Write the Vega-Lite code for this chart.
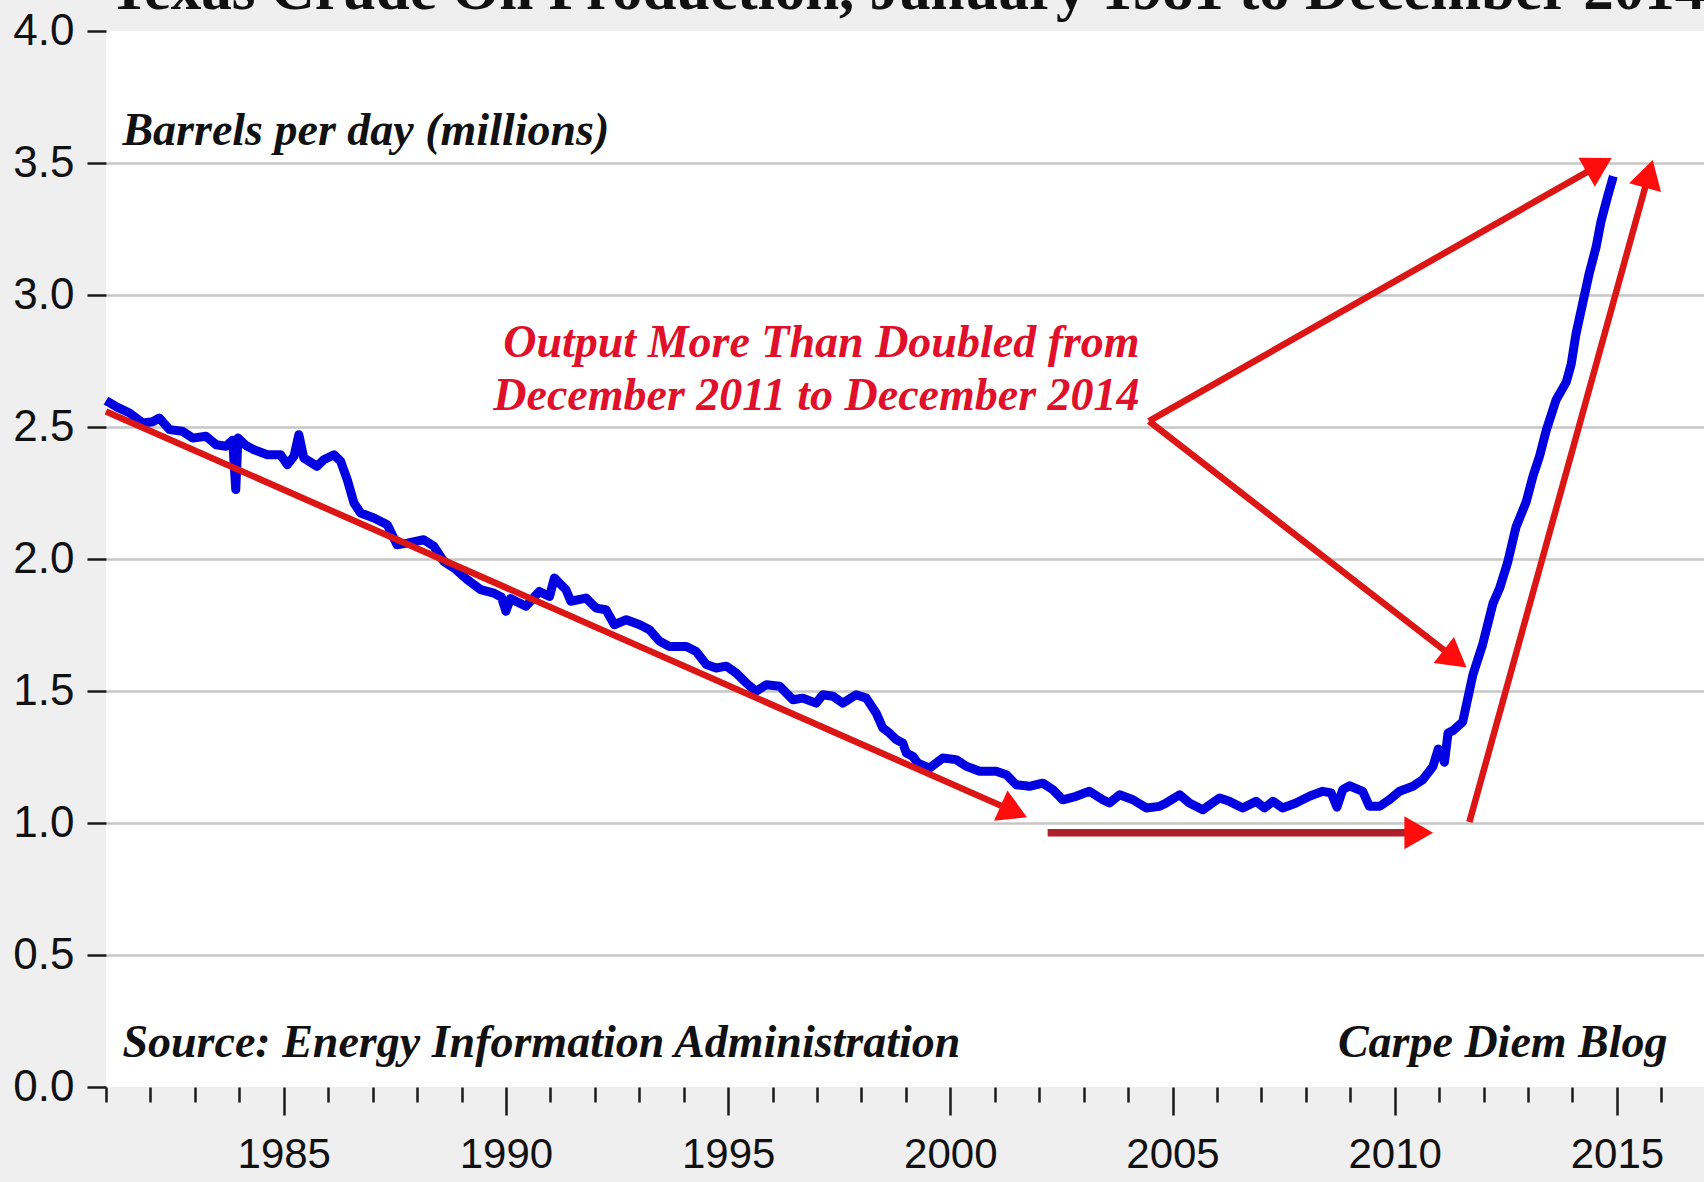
{
  "$schema": "https://vega.github.io/schema/vega-lite/v6.json",
  "width": 1598,
  "height": 1056,
  "autosize": {"type": "none"},
  "padding": {"left": 106, "top": 31, "right": 0, "bottom": 95},
  "background": "#efefef",
  "view": {"fill": "#ffffff", "stroke": null},
  "datasets": {
    "production": [
      {"year": 1981.00, "value": 2.600}, {"year": 1981.25, "value": 2.575}, {"year": 1981.53, "value": 2.553},
      {"year": 1981.83, "value": 2.515}, {"year": 1982.05, "value": 2.520}, {"year": 1982.20, "value": 2.534},
      {"year": 1982.43, "value": 2.490}, {"year": 1982.72, "value": 2.484}, {"year": 1982.95, "value": 2.458},
      {"year": 1983.25, "value": 2.465}, {"year": 1983.48, "value": 2.433}, {"year": 1983.70, "value": 2.427},
      {"year": 1983.85, "value": 2.450}, {"year": 1983.92, "value": 2.263}, {"year": 1983.97, "value": 2.458},
      {"year": 1984.15, "value": 2.430}, {"year": 1984.33, "value": 2.414}, {"year": 1984.63, "value": 2.395},
      {"year": 1984.93, "value": 2.395}, {"year": 1985.08, "value": 2.357}, {"year": 1985.23, "value": 2.389},
      {"year": 1985.34, "value": 2.471}, {"year": 1985.45, "value": 2.383}, {"year": 1985.75, "value": 2.351},
      {"year": 1985.90, "value": 2.376}, {"year": 1986.13, "value": 2.395}, {"year": 1986.28, "value": 2.370},
      {"year": 1986.43, "value": 2.300}, {"year": 1986.58, "value": 2.212}, {"year": 1986.73, "value": 2.174},
      {"year": 1987.03, "value": 2.155}, {"year": 1987.33, "value": 2.130}, {"year": 1987.55, "value": 2.054},
      {"year": 1987.78, "value": 2.060}, {"year": 1988.15, "value": 2.073}, {"year": 1988.38, "value": 2.048},
      {"year": 1988.60, "value": 1.991}, {"year": 1988.83, "value": 1.966}, {"year": 1989.13, "value": 1.922},
      {"year": 1989.43, "value": 1.884}, {"year": 1989.73, "value": 1.871}, {"year": 1989.90, "value": 1.855},
      {"year": 1990.00, "value": 1.802}, {"year": 1990.10, "value": 1.850}, {"year": 1990.45, "value": 1.821},
      {"year": 1990.75, "value": 1.877}, {"year": 1990.98, "value": 1.858}, {"year": 1991.09, "value": 1.928},
      {"year": 1991.35, "value": 1.884}, {"year": 1991.46, "value": 1.840}, {"year": 1991.80, "value": 1.852},
      {"year": 1992.03, "value": 1.814}, {"year": 1992.25, "value": 1.808}, {"year": 1992.44, "value": 1.751},
      {"year": 1992.71, "value": 1.770}, {"year": 1993.01, "value": 1.751}, {"year": 1993.23, "value": 1.732},
      {"year": 1993.46, "value": 1.688}, {"year": 1993.68, "value": 1.669}, {"year": 1994.06, "value": 1.669},
      {"year": 1994.28, "value": 1.650}, {"year": 1994.51, "value": 1.600}, {"year": 1994.73, "value": 1.587},
      {"year": 1994.96, "value": 1.594}, {"year": 1995.18, "value": 1.568}, {"year": 1995.41, "value": 1.530},
      {"year": 1995.63, "value": 1.499}, {"year": 1995.86, "value": 1.524}, {"year": 1996.16, "value": 1.518},
      {"year": 1996.46, "value": 1.467}, {"year": 1996.68, "value": 1.473}, {"year": 1996.98, "value": 1.454},
      {"year": 1997.13, "value": 1.486}, {"year": 1997.36, "value": 1.480}, {"year": 1997.58, "value": 1.454},
      {"year": 1997.88, "value": 1.486}, {"year": 1998.11, "value": 1.473}, {"year": 1998.33, "value": 1.417},
      {"year": 1998.48, "value": 1.360}, {"year": 1998.63, "value": 1.341}, {"year": 1998.78, "value": 1.316},
      {"year": 1998.93, "value": 1.303}, {"year": 1999.01, "value": 1.265}, {"year": 1999.16, "value": 1.252},
      {"year": 1999.27, "value": 1.227}, {"year": 1999.53, "value": 1.208}, {"year": 1999.83, "value": 1.246},
      {"year": 2000.13, "value": 1.240}, {"year": 2000.36, "value": 1.215}, {"year": 2000.66, "value": 1.196},
      {"year": 2001.03, "value": 1.196}, {"year": 2001.26, "value": 1.183}, {"year": 2001.48, "value": 1.145},
      {"year": 2001.78, "value": 1.139}, {"year": 2002.08, "value": 1.151}, {"year": 2002.31, "value": 1.126},
      {"year": 2002.53, "value": 1.088}, {"year": 2002.83, "value": 1.101}, {"year": 2003.13, "value": 1.120},
      {"year": 2003.43, "value": 1.088}, {"year": 2003.58, "value": 1.076}, {"year": 2003.81, "value": 1.107},
      {"year": 2004.11, "value": 1.088}, {"year": 2004.41, "value": 1.057}, {"year": 2004.71, "value": 1.063},
      {"year": 2004.86, "value": 1.076}, {"year": 2005.16, "value": 1.107}, {"year": 2005.38, "value": 1.076},
      {"year": 2005.68, "value": 1.050}, {"year": 2006.06, "value": 1.095}, {"year": 2006.28, "value": 1.082},
      {"year": 2006.58, "value": 1.057}, {"year": 2006.88, "value": 1.082}, {"year": 2007.07, "value": 1.057},
      {"year": 2007.26, "value": 1.082}, {"year": 2007.48, "value": 1.057}, {"year": 2007.78, "value": 1.076},
      {"year": 2008.08, "value": 1.101}, {"year": 2008.38, "value": 1.120}, {"year": 2008.57, "value": 1.114},
      {"year": 2008.70, "value": 1.060}, {"year": 2008.83, "value": 1.126}, {"year": 2008.98, "value": 1.141},
      {"year": 2009.28, "value": 1.120}, {"year": 2009.43, "value": 1.063}, {"year": 2009.66, "value": 1.063},
      {"year": 2009.88, "value": 1.088}, {"year": 2010.11, "value": 1.120}, {"year": 2010.41, "value": 1.139},
      {"year": 2010.63, "value": 1.164}, {"year": 2010.86, "value": 1.214}, {"year": 2010.98, "value": 1.280},
      {"year": 2011.06, "value": 1.260}, {"year": 2011.12, "value": 1.230}, {"year": 2011.20, "value": 1.341},
      {"year": 2011.31, "value": 1.350}, {"year": 2011.53, "value": 1.383}, {"year": 2011.76, "value": 1.562},
      {"year": 2011.98, "value": 1.677}, {"year": 2012.21, "value": 1.831}, {"year": 2012.36, "value": 1.889},
      {"year": 2012.54, "value": 1.986}, {"year": 2012.73, "value": 2.121}, {"year": 2012.96, "value": 2.217},
      {"year": 2013.11, "value": 2.313}, {"year": 2013.26, "value": 2.390}, {"year": 2013.41, "value": 2.487},
      {"year": 2013.63, "value": 2.602}, {"year": 2013.86, "value": 2.670}, {"year": 2013.97, "value": 2.737},
      {"year": 2014.08, "value": 2.853}, {"year": 2014.23, "value": 2.969}, {"year": 2014.38, "value": 3.084},
      {"year": 2014.53, "value": 3.180}, {"year": 2014.64, "value": 3.277}, {"year": 2014.79, "value": 3.373},
      {"year": 2014.92, "value": 3.450}
    ],
    "arrows": [
      {"id": "a1", "year": 1981.00, "value": 2.559, "year2": 2001.43, "value2": 1.044},
      {"id": "a2", "year": 2002.19, "value": 0.963, "year2": 2010.54, "value2": 0.963},
      {"id": "a3", "year": 2011.68, "value": 1.003, "year2": 2015.72, "value2": 3.459},
      {"id": "a4", "year": 2004.47, "value": 2.522, "year2": 2014.60, "value2": 3.492},
      {"id": "a5", "year": 2004.47, "value": 2.522, "year2": 2011.36, "value2": 1.622}
    ],
    "heads": [
      {"id": "a1", "year": 2001.43, "value": 1.044},
      {"id": "a2", "year": 2010.54, "value": 0.963},
      {"id": "a3", "year": 2015.72, "value": 3.459},
      {"id": "a4", "year": 2014.60, "value": 3.492},
      {"id": "a5", "year": 2011.36, "value": 1.622}
    ],
    "headline": [
      {"label": "Texas Crude Oil Production, January 1981 to December 2014", "year": 1981.06, "value": 4.085}
    ],
    "notesLeft": [
      {"label": "Barrels per day (millions)", "year": 1981.37, "value": 3.569},
      {"label": "Source: Energy Information Administration", "year": 1981.37, "value": 0.115}
    ],
    "notesRight": [
      {"label": "Carpe Diem Blog", "year": 2016.14, "value": 0.115}
    ],
    "notesRed": [
      {"label": "Output More Than Doubled from", "year": 2004.26, "value": 2.766},
      {"label": "December 2011 to December 2014", "year": 2004.26, "value": 2.565}
    ]
  },
  "encoding": {
    "x": {
      "field": "year", "type": "quantitative",
      "scale": {"domain": [1981, 2016.96], "nice": false, "zero": false},
      "axis": {
        "title": null,
        "values": [1981,1982,1983,1984,1985,1986,1987,1988,1989,1990,1991,1992,1993,1994,1995,1996,1997,1998,1999,2000,2001,2002,2003,2004,2005,2006,2007,2008,2009,2010,2011,2012,2013,2014,2015,2016],
        "format": "d",
        "labelExpr": "datum.value % 5 === 0 ? datum.label : ''",
        "grid": false,
        "domain": false,
        "tickSize": 28,
        "tickDash": {"condition": {"test": "datum.value % 5 !== 0", "value": [15, 60]}, "value": [60, 1]},
        "tickWidth": 2.5,
        "tickColor": "#1a1a1a",
        "labelFont": "Liberation Sans",
        "labelFontSize": 42,
        "labelColor": "#111111",
        "labelPadding": 19,
        "labelFlush": false,
        "labelOverlap": false,
        "labelBound": false
      }
    },
    "y": {
      "field": "value", "type": "quantitative",
      "scale": {"domain": [0, 4], "nice": false},
      "axis": {
        "title": null,
        "values": [0, 0.5, 1, 1.5, 2, 2.5, 3, 3.5, 4],
        "format": ".1f",
        "grid": true,
        "gridColor": "#c6c6c6",
        "gridWidth": 2.5,
        "gridOpacity": {"condition": {"test": "datum.value === 0 || datum.value === 4", "value": 0}, "value": 1},
        "domain": false,
        "tickSize": 19,
        "tickWidth": 2.5,
        "tickColor": "#1a1a1a",
        "labelFont": "Liberation Sans",
        "labelFontSize": 44,
        "labelColor": "#111111",
        "labelPadding": 13,
        "labelFlush": false,
        "labelOverlap": false
      }
    }
  },
  "layer": [
    {
      "data": {"name": "production"},
      "mark": {"type": "line", "color": "#0000e0", "strokeWidth": 9, "strokeJoin": "round", "strokeCap": "butt"}
    },
    {
      "data": {"name": "arrows"},
      "mark": {"type": "rule", "strokeCap": "butt"},
      "encoding": {
        "x2": {"field": "year2"},
        "y2": {"field": "value2"},
        "color": {"condition": {"test": "datum.id === 'a2'", "value": "#b0202a"}, "value": "#dc1515"},
        "strokeWidth": {"condition": {"test": "datum.id === 'a2'", "value": 7.5}, "value": 6.5}
      }
    },
    {
      "data": {"name": "heads"},
      "mark": {"type": "point", "shape": "triangle-up", "filled": true, "size": 1100, "opacity": 1, "color": "#ff0d0d"},
      "encoding": {
        "angle": {
          "condition": [
            {"test": "datum.id === 'a1'", "value": 113.8},
            {"test": "datum.id === 'a2'", "value": 90},
            {"test": "datum.id === 'a3'", "value": 15.5},
            {"test": "datum.id === 'a4'", "value": 60.3}
          ],
          "value": 127.8
        }
      }
    },
    {
      "data": {"name": "headline"},
      "mark": {"type": "text", "align": "left", "baseline": "alphabetic", "font": "Liberation Serif", "fontWeight": "bold", "fontSize": 61, "color": "#111111", "clip": false},
      "encoding": {"text": {"field": "label"}}
    },
    {
      "data": {"name": "notesLeft"},
      "mark": {"type": "text", "align": "left", "baseline": "alphabetic", "font": "Liberation Serif", "fontStyle": "italic", "fontWeight": "bold", "fontSize": 46, "color": "#111111"},
      "encoding": {"text": {"field": "label"}}
    },
    {
      "data": {"name": "notesRight"},
      "mark": {"type": "text", "align": "right", "baseline": "alphabetic", "font": "Liberation Serif", "fontStyle": "italic", "fontWeight": "bold", "fontSize": 46, "color": "#111111"},
      "encoding": {"text": {"field": "label"}}
    },
    {
      "data": {"name": "notesRed"},
      "mark": {"type": "text", "align": "right", "baseline": "alphabetic", "font": "Liberation Serif", "fontStyle": "italic", "fontWeight": "bold", "fontSize": 46, "color": "#e0102a"},
      "encoding": {"text": {"field": "label"}}
    }
  ]
}
